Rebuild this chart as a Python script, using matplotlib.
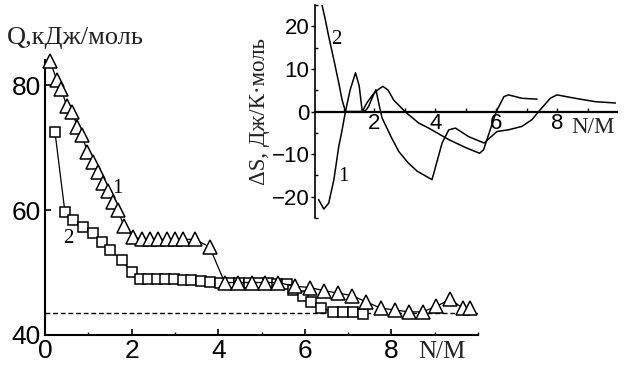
import matplotlib
matplotlib.use('Agg')
import matplotlib.pyplot as plt
from matplotlib.ticker import MultipleLocator

# main plot: Q vs N/M
tri_x = [0.12, 0.27, 0.38, 0.5, 0.62, 0.75, 0.85, 0.98, 1.1, 1.23, 1.35, 1.46, 1.58, 1.69, 1.82,
         2.04, 2.23, 2.42, 2.62, 2.81, 3.0, 3.19, 3.46, 3.8, 4.15, 4.46, 4.77, 5.08, 5.38, 5.77,
         6.12, 6.44, 6.77, 7.09, 7.42, 7.75, 8.09, 8.4, 8.72, 9.04, 9.36, 9.65, 9.81]
tri_y = [83.8, 80.8, 79.3, 76.6, 75.7, 73.3, 72.0, 69.3, 67.7, 66.1, 64.3, 63.0, 61.3, 60.0, 57.4,
         55.7, 55.3, 55.3, 55.3, 55.3, 55.3, 55.3, 55.3, 54.1, 48.4, 48.4, 48.4, 48.4, 48.4, 47.8,
         47.6, 47.1, 46.7, 46.3, 45.3, 44.3, 44.0, 43.7, 43.7, 44.6, 45.7, 44.3, 44.3]

sq_x = [0.23, 0.46, 0.65, 0.88, 1.11, 1.31, 1.5, 1.77, 2.0, 2.19, 2.38, 2.58, 2.78, 2.98, 3.18,
        3.38, 3.6, 3.82, 4.04, 4.26, 4.48, 4.7, 4.92, 5.14, 5.36, 5.58, 5.73, 5.95, 6.15, 6.38,
        6.65, 6.88, 7.12, 7.35]
sq_y = [72.5, 59.7, 58.4, 57.3, 56.3, 54.9, 53.6, 52.0, 50.1, 49.0, 49.0, 49.0, 48.95, 48.9, 48.8,
        48.8, 48.6, 48.5, 48.4, 48.4, 48.35, 48.3, 48.3, 48.25, 48.2, 48.1, 47.2, 46.2, 45.3, 44.3,
        43.7, 43.7, 43.7, 43.4]

q_level = 43.6

# inset: dS vs N/M
s1_x = [0.17, 0.34, 0.5, 0.67, 0.83, 0.94, 1.05, 1.2, 1.38, 1.5, 1.6, 1.75, 1.95, 2.15, 2.28,
        2.45, 2.63, 3.0, 3.45, 3.78, 4.44, 5.0, 5.45, 5.58, 6.0, 6.25, 6.4, 6.84, 7.33]
s1_y = [-20.7, -22.9, -21.5, -16.0, -8.2, -4.3, 0.0, 5.0, 9.1, 6.0, 0.0, 2.0, 4.0, 5.3, 5.9,
        5.0, 2.7, 0.0, -2.7, -3.9, -6.6, -8.5, -9.8, -9.0, 0.0, 3.5, 3.9, 3.1, 2.9]

s2_x = [0.28, 0.39, 0.5, 0.67, 0.83, 0.94, 1.05, 1.2, 1.4, 1.6, 1.72, 1.81, 1.92, 2.05, 2.14,
        2.25, 2.55, 2.8, 3.1, 3.4, 3.89, 4.22, 4.44, 4.66, 5.09, 5.6, 6.02, 6.4, 6.84, 7.17, 7.44,
        7.77, 7.99, 8.59, 9.25, 9.9]
s2_y = [25.0, 21.5, 17.6, 12.1, 6.7, 2.7, 0.0, 0.0, 0.0, 0.0, 0.3, 1.2, 3.1, 5.1, 2.0,
        -1.5, -6.0, -9.4, -12.0, -14.0, -16.0, -7.4, -4.3, -3.9, -5.9, -7.4, -4.7, -4.3, -3.5, -1.9, 0.4,
        3.1, 3.9, 3.1, 2.3, 2.0]

serif = ['Liberation Serif', 'DejaVu Serif']
sans = 'Liberation Sans'

fig = plt.figure(figsize=(6.24, 3.69), dpi=100)
ax = fig.add_axes([45/624, 1-335/369, (478-45)/624, (335-60)/369])

ax.plot(sq_x, sq_y, 'k-', lw=0.9, marker='s', ms=7.3, mfc='white', mec='k', mew=1.1,
        clip_on=False, zorder=3)
ax.plot(tri_x, tri_y, 'k-', lw=0.9, marker='^', ms=9.5, mfc='white', mec='k', mew=1.1,
        clip_on=False, zorder=4)
ax.plot([0, 10], [q_level, q_level], color='k', lw=1.0, linestyle=(0, (3.5, 2)), zorder=2)

ax.set_xlim(0, 10)
ax.set_ylim(40, 84)
for s in ['top', 'right']:
    ax.spines[s].set_visible(False)
for s in ['left', 'bottom']:
    ax.spines[s].set_linewidth(1.5)
ax.xaxis.set_minor_locator(MultipleLocator(1))
ax.yaxis.set_major_locator(MultipleLocator(20))
ax.set_xticks([0, 2, 4, 6, 8])
ax.tick_params(which='major', direction='in', length=4, width=1.2, labelsize=19, pad=3)
ax.tick_params(which='minor', direction='in', length=2, width=1.0)
ax.tick_params(axis='y', which='minor', length=0)
for lab in ax.get_xticklabels() + ax.get_yticklabels():
    lab.set_fontfamily(sans)

ax.text(1.68, 63.5, '1', fontsize=15, family=serif, ha='center', va='center')
ax.text(0.53, 55.5, '2', fontsize=15, family=serif, ha='center', va='center')
ax.text(9.16, -0.062, 'N/M', fontsize=18, family=serif, ha='center', va='center',
        transform=ax.get_xaxis_transform(), color='#222222')
fig.text(7/624, 1-38/369, 'Q,кДж/моль', fontsize=19, family=serif, ha='left', va='center',
         color='#222222')

# inset
ins = fig.add_axes([315/624, 1-218/369, (616.7-315)/624, (218-5)/369])
ins.patch.set_alpha(0)
ins.plot(s1_x, s1_y, 'k-', lw=1.1)
ins.plot(s2_x, s2_y, 'k-', lw=1.1)
ins.set_xlim(0.05, 9.95)
ins.set_ylim(-25, 25)
ins.spines['top'].set_visible(False)
ins.spines['right'].set_visible(False)
ins.spines['bottom'].set_position(('data', 0))
ins.spines['bottom'].set_linewidth(1.6)
ins.spines['left'].set_linewidth(1.2)
ins.set_xticks([2, 4, 6, 8])
ins.xaxis.set_minor_locator(MultipleLocator(1))
ins.yaxis.set_major_locator(MultipleLocator(10))
ins.yaxis.set_minor_locator(MultipleLocator(5))
ins.tick_params(axis='x', which='both', direction='in', length=3, width=1.0, labelsize=16, pad=1)
ins.tick_params(axis='y', which='major', direction='out', length=3, width=1.0, labelsize=16, pad=1)
ins.tick_params(axis='y', which='minor', direction='in', length=2, width=1.0)
for lab in ins.get_xticklabels() + ins.get_yticklabels():
    lab.set_fontfamily(sans)
ins.set_ylabel('ΔS, Дж/К·моль', fontsize=16.5, family=serif, labelpad=1, color='#222222')
ins.text(9.16, -3.8, 'N/M', fontsize=16.5, family=serif, ha='center', va='center', color='#222222')
ins.text(0.76, 16.8, '2', fontsize=15, family=serif, ha='center', va='center')
ins.text(0.99, -15.3, '1', fontsize=15, family=serif, ha='center', va='center')

fig.savefig('out.png', dpi=100)
